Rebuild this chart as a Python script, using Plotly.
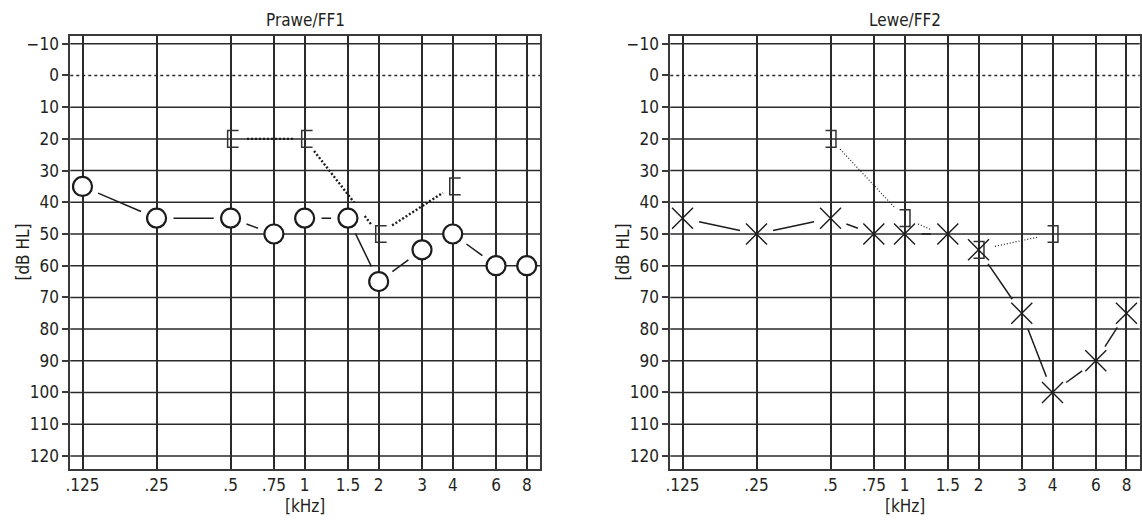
import math
import plotly.graph_objects as go

# ---------------- data ----------------
freq_ticks = [0.125, 0.25, 0.5, 0.75, 1, 1.5, 2, 3, 4, 6, 8]
freq_labels = [".125", ".25", ".5", ".75", "1", "1.5", "2", "3", "4", "6", "8"]
db_ticks = list(range(-10, 121, 10))

# right ear (Prawe/FF1): air conduction (circles) and bone conduction "["
right_air_freq = [0.125, 0.25, 0.5, 0.75, 1, 1.5, 2, 3, 4, 6, 8]
right_air_db = [35, 45, 45, 50, 45, 45, 65, 55, 50, 60, 60]
right_bone_freq = [0.5, 1, 2, 4]
right_bone_db = [20, 20, 50, 35]

# left ear (Lewe/FF2): air conduction (crosses) and bone conduction "]"
left_air_freq = [0.125, 0.25, 0.5, 0.75, 1, 1.5, 2, 3, 4, 6, 8]
left_air_db = [45, 50, 45, 50, 50, 50, 55, 75, 100, 90, 75]
left_bone_freq = [0.5, 1, 2, 4]
left_bone_db = [20, 45, 55, 50]

titles = ["Prawe/FF1", "Lewe/FF2"]

# ---------------- geometry / style ----------------
W, H = 1142, 521
FONT = "DejaVu Sans Condensed, Liberation Sans Narrow, Liberation Sans, sans-serif"
FS = 17
TXT = "#231f20"
GRID = "#2a2a2a"
BORDER = "#3a3a3a"
INK = "#1c1c1c"

panels_px = [(65.7, 538.3), (669.4, 1141.7)]
ytop_px, ybot_px = 34.0, 468.7
XR = [math.log10(0.125) - 0.0497, math.log10(8) + 0.0537]
YR = [124.1, -12.5]

XPX = (panels_px[0][1] - panels_px[0][0]) / (XR[1] - XR[0])  # px per log10 unit
YPX = (ybot_px - ytop_px) / (YR[0] - YR[1])                    # px per dB


def to_px(f, d):
    return math.log10(f) * XPX, d * YPX


def from_px(px, py):
    return 10 ** (px / XPX), py / YPX


def gapped(freqs, dbs, centers):
    """Connect consecutive points, leaving gaps around every marker."""
    xs, ys = [], []
    for i in range(len(freqs) - 1):
        p = to_px(freqs[i], dbs[i])
        q = to_px(freqs[i + 1], dbs[i + 1])
        dx, dy = q[0] - p[0], q[1] - p[1]
        L2 = dx * dx + dy * dy
        L = math.sqrt(L2)
        cuts = []
        for (c, r) in centers:
            fx, fy = p[0] - c[0], p[1] - c[1]
            b = 2 * (fx * dx + fy * dy)
            cc = fx * fx + fy * fy - r * r
            disc = b * b - 4 * L2 * cc
            if disc <= 0:
                continue
            s = math.sqrt(disc)
            t0, t1 = (-b - s) / (2 * L2), (-b + s) / (2 * L2)
            if t1 < 0 or t0 > 1:
                continue
            cuts.append((max(t0, 0.0), min(t1, 1.0)))
        cuts.sort()
        t = 0.0
        pieces = []
        for a0, a1 in cuts:
            if a0 > t:
                pieces.append((t, a0))
            t = max(t, a1)
        if t < 1:
            pieces.append((t, 1.0))
        for a0, a1 in pieces:
            if (a1 - a0) * L < 1.5:
                continue
            for tt in (a0, a1):
                x, y = from_px(p[0] + tt * dx, p[1] + tt * dy)
                xs.append(x)
                ys.append(y)
            xs.append(None)
            ys.append(None)
    return xs, ys


def brackets(freqs, dbs, stroke_px, arm_px, half_h=8.4):
    xs, ys = [], []
    for f, d in zip(freqs, dbs):
        ka = 10 ** (arm_px / XPX)
        ks = 10 ** (stroke_px / XPX)
        hh = half_h / YPX
        xs += [f * ka, f * ks, f * ks, f * ka, None]
        ys += [d - hh, d - hh, d + hh, d + hh, None]
    return xs, ys


fig = go.Figure()

panel_data = [
    (right_air_freq, right_air_db, right_bone_freq, right_bone_db, "circle", 17, -3.0, 8.0, 2.4, "2px,2px"),
    (left_air_freq, left_air_db, left_bone_freq, left_bone_db, "x-thin", 17, 5.5, -5.0, 1.2, "1px,2px"),
]

for i, (af, ad, bf, bd, sym, rad, stroke, arm, bw, bdash) in enumerate(panel_data):
    xref = "x" if i == 0 else "x2"
    yref = "y" if i == 0 else "y2"
    centers = [(to_px(f, d), rad) for f, d in zip(af, ad)]
    centers += [((to_px(f, d)[0] + (stroke + arm) / 2.0, to_px(f, d)[1]), 14) for f, d in zip(bf, bd)]

    ax_, ay_ = gapped(af, ad, centers)
    fig.add_trace(go.Scatter(x=ax_, y=ay_, mode="lines", xaxis=xref, yaxis=yref,
                             line=dict(color=INK, width=1.5), hoverinfo="skip", showlegend=False))
    bx_, by_ = gapped(bf, bd, centers)
    fig.add_trace(go.Scatter(x=bx_, y=by_, mode="lines", xaxis=xref, yaxis=yref,
                             line=dict(color=INK, width=bw, dash=bdash), hoverinfo="skip", showlegend=False))
    kx, ky = brackets(bf, bd, stroke, arm)
    fig.add_trace(go.Scatter(x=kx, y=ky, mode="lines", xaxis=xref, yaxis=yref,
                             line=dict(color="#333333", width=1.5), hoverinfo="skip", showlegend=False))
    if sym == "circle":
        mk = dict(symbol="circle", size=19, color="white", line=dict(color=INK, width=2.2))
    else:
        mk = dict(symbol="x-thin", size=21, color=INK, line=dict(color=INK, width=1.4))
    fig.add_trace(go.Scatter(x=af, y=ad, mode="markers", xaxis=xref, yaxis=yref,
                             marker=mk, showlegend=False))

    # horizontal grid lines (0 dB is dotted)
    for v in db_ticks:
        fig.add_shape(type="line", xref=xref + " domain", yref=yref, x0=0, x1=1, y0=v, y1=v,
                      line=dict(color=GRID, width=1.5 if v != 0 else 1.3, dash="solid" if v != 0 else "dot"),
                      layer="below")

tickfont = dict(family=FONT, size=FS, color=TXT)

layout = dict(width=W, height=H, margin=dict(l=0, r=0, t=0, b=0), autosize=False,
              paper_bgcolor="white", plot_bgcolor="white", showlegend=False)

for i in range(2):
    x0p, x1p = panels_px[i]
    xd = [x0p / W, x1p / W]
    yd = [1 - ybot_px / H, 1 - ytop_px / H]
    sx = "" if i == 0 else "2"
    layout["xaxis" + sx] = dict(type="log", range=XR, domain=xd, anchor="y" + sx,
                                tickmode="array", tickvals=freq_ticks, ticktext=freq_labels,
                                showgrid=True, gridcolor=GRID, gridwidth=1.5,
                                showline=True, linecolor=BORDER, linewidth=2, mirror=True,
                                ticks="", tickfont=tickfont, zeroline=False, fixedrange=True)
    layout["yaxis" + sx] = dict(range=YR, domain=yd, anchor="x" + sx,
                                tickmode="array", tickvals=db_ticks,
                                showgrid=False, zeroline=False,
                                showline=True, linecolor=BORDER, linewidth=2, mirror=True,
                                ticks="outside", ticklen=6, tickwidth=1.5, tickcolor=BORDER,
                                tickfont=tickfont, fixedrange=True)

fig.update_layout(**layout)

ann = []
for i in range(2):
    x0p, x1p = panels_px[i]
    cx = (x0p + x1p) / 2 / W
    ann.append(dict(text=titles[i], x=cx, y=1 - 18 / H, xref="paper", yref="paper",
                    showarrow=False, xanchor="center", yanchor="middle",
                    font=dict(family=FONT, size=FS, color=TXT)))
    ann.append(dict(text="[kHz]", x=cx, y=1 - 506 / H, xref="paper", yref="paper",
                    showarrow=False, xanchor="center", yanchor="middle",
                    font=dict(family=FONT, size=FS, color=TXT)))
    ann.append(dict(text="[dB HL]", x=(x0p - 47.4) / W, y=1 - (ytop_px + ybot_px) / 2 / H,
                    xref="paper", yref="paper", showarrow=False, textangle=-90,
                    xanchor="center", yanchor="middle",
                    font=dict(family=FONT, size=FS, color=TXT)))
fig.update_layout(annotations=ann)

fig.write_html("out.html")
